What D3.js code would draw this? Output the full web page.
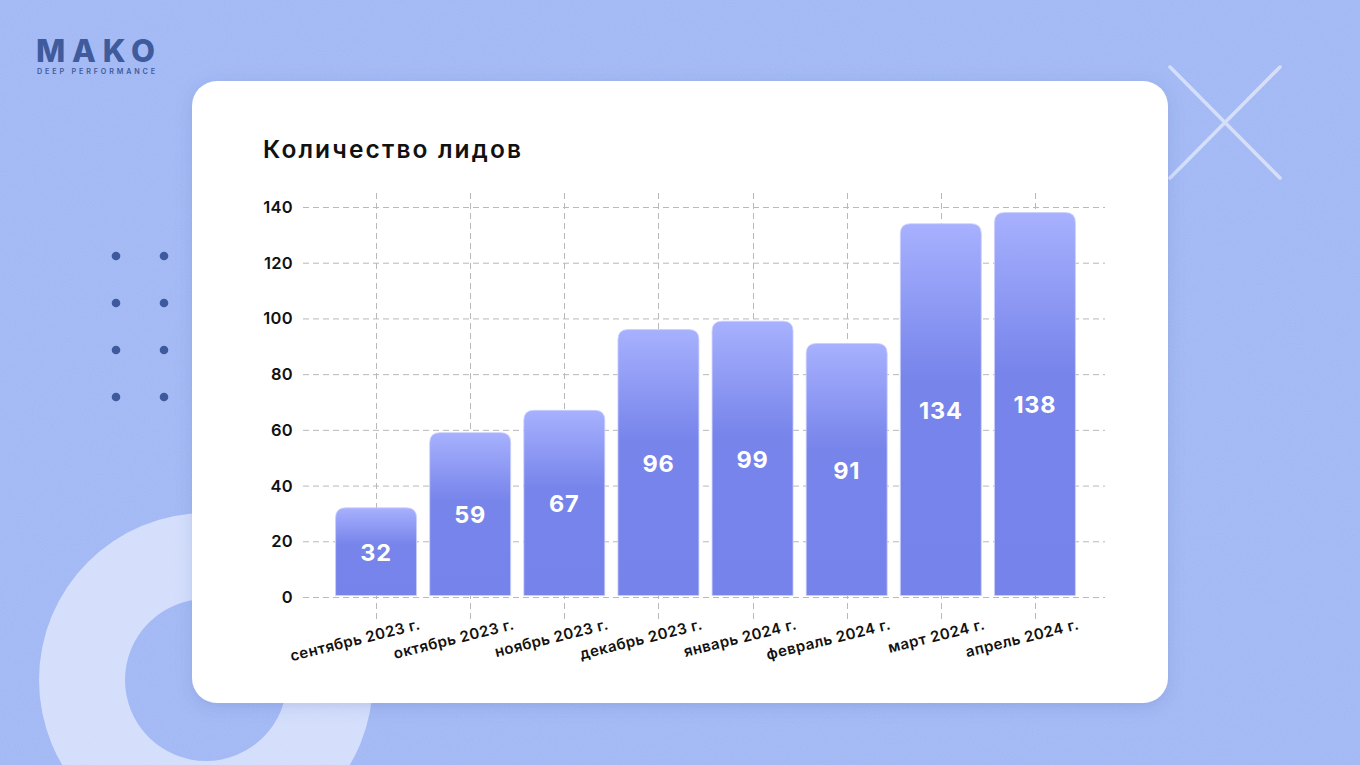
<!DOCTYPE html>
<html><head><meta charset="utf-8">
<script src="https://cdn.jsdelivr.net/npm/d3@7/dist/d3.min.js"></script>
<style>
html,body{margin:0;padding:0;overflow:hidden;background:#a2b8f5;}
svg{display:block;}
</style></head>
<body>
<svg id="c" width="1360" height="765"></svg>
<script>
const title = "Количество лидов";
const categories = ["сентябрь 2023 г.","октябрь 2023 г.","ноябрь 2023 г.","декабрь 2023 г.","январь 2024 г.","февраль 2024 г.","март 2024 г.","апрель 2024 г."];
const values = [32,59,67,96,99,91,134,138];
const yTicks = [0,20,40,60,80,100,120,140];

const FONT = "Inter, 'Open Sans', 'DejaVu Sans', sans-serif";
const svg = d3.select("#c");
const defs = svg.append("defs");

// noise filter
const nf = defs.append("filter").attr("id","noise").attr("x",0).attr("y",0).attr("width","100%").attr("height","100%");
nf.append("feTurbulence").attr("type","fractalNoise").attr("baseFrequency",0.9).attr("numOctaves",2).attr("seed",3).attr("result","t");
nf.append("feColorMatrix").attr("in","t").attr("type","matrix")
  .attr("values","0 0 0 0 1  0 0 0 0 1  0 0 0 0 1  0 0 0 0.12 0");
nf.append("feComposite").attr("in2","SourceGraphic").attr("operator","in");

const sh = defs.append("filter").attr("id","shadow").attr("x","-10%").attr("y","-10%").attr("width","120%").attr("height","125%");
sh.append("feDropShadow").attr("dx",0).attr("dy",4).attr("stdDeviation",8).attr("flood-color","#3a4f9a").attr("flood-opacity",0.18);

const grad = defs.append("linearGradient").attr("id","barGrad").attr("x1",0).attr("y1",0).attr("x2",0).attr("y2",1);
grad.append("stop").attr("offset","0").attr("stop-color","#a7b1fe");
grad.append("stop").attr("offset","0.42").attr("stop-color","#7784ea");
grad.append("stop").attr("offset","1").attr("stop-color","#7683ea");

// background
svg.append("rect").attr("width",1360).attr("height",765).attr("fill","#9fb6f4");

// ring
const ring = d3.arc()({innerRadius:81, outerRadius:167, startAngle:0, endAngle:2*Math.PI});
svg.append("path").attr("d",ring).attr("transform","translate(206,680)").attr("fill","#d2ddfc");

svg.append("rect").attr("width",1360).attr("height",765).attr("fill","#9fb6f4").attr("filter","url(#noise)");

// X decoration
svg.append("g").attr("stroke","#dfe6fb").attr("stroke-width",3.5).attr("stroke-linecap","round").attr("opacity",0.85)
  .selectAll("line").data([[1170,67,1280,178],[1280,67,1170,178]]).join("line")
  .attr("x1",d=>d[0]).attr("y1",d=>d[1]).attr("x2",d=>d[2]).attr("y2",d=>d[3]);

// dots
const dotG = svg.append("g").attr("fill","#3f5a9c");
[256,303,350,397].forEach(y=>[116,164].forEach(x=>dotG.append("circle").attr("cx",x).attr("cy",y).attr("r",4.3)));

// logo
svg.append("text").attr("x",36).attr("y",62).attr("font-family",FONT).attr("font-weight",800)
  .attr("font-size",31).attr("textLength",119).attr("lengthAdjust","spacing").attr("fill","#3f5b9c").text("MAKO");
svg.append("text").attr("x",37).attr("y",74).attr("font-family",FONT).attr("font-weight",600)
  .attr("font-size",7.2).attr("textLength",118).attr("lengthAdjust","spacing").attr("fill","#3f5b9c").text("DEEP PERFORMANCE");

// card
svg.append("rect").attr("x",192).attr("y",81).attr("width",976).attr("height",622).attr("rx",25)
  .attr("fill","#ffffff").attr("filter","url(#shadow)");

// title
svg.append("text").attr("x",263).attr("y",158).attr("font-family",FONT).attr("font-weight",600)
  .attr("font-size",24.5).attr("textLength",258).attr("lengthAdjust","spacing").attr("fill","#111").text(title);

const x = d3.scaleBand().domain(categories).range([329,1082]).paddingInner(0.14).paddingOuter(0.07);
const y = d3.scaleLinear().domain([0,140]).range([597,207]);

const grid = svg.append("g").attr("stroke","#b9b9b9").attr("stroke-width",1).attr("stroke-dasharray","6,4").attr("fill","none");
grid.selectAll("line.h").data(yTicks).join("line").attr("class","h")
  .attr("x1",303).attr("x2",1105).attr("y1",d=>y(d)+0.5).attr("y2",d=>y(d)+0.5);
grid.selectAll("line.v").data(categories).join("line").attr("class","v")
  .attr("x1",d=>Math.round(x(d)+x.bandwidth()/2)+0.5).attr("x2",d=>Math.round(x(d)+x.bandwidth()/2)+0.5)
  .attr("y1",193).attr("y2",619);

// y labels
svg.append("g").selectAll("text").data(yTicks).join("text")
  .attr("x",293).attr("y",d=>y(d)).attr("dy","0.36em").attr("text-anchor","end")
  .attr("font-family",FONT).attr("font-weight",600).attr("font-size",16.5).attr("letter-spacing",0.3).attr("fill","#111")
  .text(d=>d);

// bars
const r = 10;
function barPath(x0,y0,w,h){
  const rr = Math.min(r,h);
  return `M${x0},${y0+h}V${y0+rr}Q${x0},${y0} ${x0+rr},${y0}H${x0+w-rr}Q${x0+w},${y0} ${x0+w},${y0+rr}V${y0+h}Z`;
}
const data = categories.map((c,i)=>({c, v:values[i]}));
svg.append("g").selectAll("path").data(data).join("path")
  .attr("d",d=>barPath(x(d.c), y(d.v), x.bandwidth(), y(0)-1.5-y(d.v)))
  .attr("fill","url(#barGrad)").attr("stroke","#c9cffd").attr("stroke-width",0.8);

svg.append("g").selectAll("text").data(data).join("text")
  .attr("x",d=>x(d.c)+x.bandwidth()/2).attr("y",d=>(y(d.v)+y(0))/2).attr("dy","0.36em")
  .attr("text-anchor","middle").attr("font-family",FONT).attr("font-weight",700).attr("font-size",23.5)
  .attr("letter-spacing",0.8).attr("fill","#ffffff").text(d=>d.v);

// x labels
svg.append("g").selectAll("text").data(categories).join("text")
  .attr("text-anchor","end")
  .attr("transform",d=>`translate(${x(d)+x.bandwidth()/2+45},${629}) rotate(-14)`)
  .attr("font-family",FONT).attr("font-weight",600).attr("font-size",15).attr("letter-spacing",0.45).attr("fill","#111")
  .text(d=>d);
</script>
</body></html>
